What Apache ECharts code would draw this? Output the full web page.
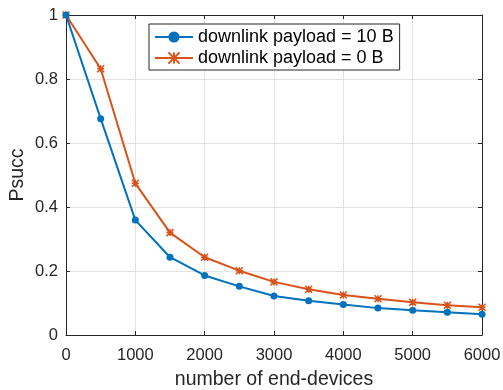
<!DOCTYPE html>
<html>
<head>
<meta charset="utf-8">
<script src="https://cdn.jsdelivr.net/npm/echarts@6/dist/echarts.min.js"></script>
<style>
  html, body { margin: 0; padding: 0; background: #fff; }
  #chart { width: 503px; height: 390px; }
</style>
</head>
<body>
<div id="chart"></div>
<script>
// Number of end-devices in the network
const devices = [0, 500, 1000, 1500, 2000, 2500, 3000, 3500, 4000, 4500, 5000, 5500, 6000];
// Success probability with a 10-byte downlink payload
const psucc10B = [1.0, 0.676, 0.359, 0.243, 0.186, 0.152, 0.122, 0.107, 0.095, 0.084, 0.077, 0.071, 0.065];
// Success probability with no downlink payload
const psucc0B = [1.0, 0.832, 0.474, 0.320, 0.243, 0.201, 0.166, 0.143, 0.125, 0.113, 0.102, 0.093, 0.087];

const seriesNames = ['downlink payload = 10 B', 'downlink payload = 0 B'];
const xTitle = 'number of end-devices';
const yTitle = 'Psucc';

const FONT = '"Liberation Sans", Arial, Helvetica, sans-serif';
const AXIS_COLOR = '#262626';
const GRID_COLOR = '#e3e3e3';
const BLUE = '#0072BD';
const ORANGE = '#D95319';

// asterisk marker: diagonal cross plus vertical/horizontal bars
const ASTERISK = 'path://M0,0L10,10M10,0L0,10M5,0L5,10M0,5L10,5';

const pairs = (ys) => devices.map((x, i) => [x, ys[i]]);

// plain number labels (no thousands separator)
const plain = (v) => String(Math.round(v * 1000) / 1000);

function boxAxis(kind, pos) {
  return {
    type: 'value', position: pos,
    min: 0, max: kind === 'x' ? 6000 : 1,
    interval: kind === 'x' ? 1000 : 0.2,
    axisLine: { show: true, onZero: false, lineStyle: { color: AXIS_COLOR, width: 1 } },
    axisTick: { show: true, inside: true, length: 4, lineStyle: { color: AXIS_COLOR } },
    axisLabel: { show: false },
    splitLine: { show: false }
  };
}

const chart = echarts.init(document.getElementById('chart'), null, { renderer: 'canvas' });
chart.setOption({
  animation: false,
  backgroundColor: '#ffffff',
  grid: { left: 66, right: 21, top: 15, bottom: 55, containLabel: false, outerBoundsMode: 'none' },
  legend: {
    orient: 'vertical',
    left: 149, top: 24,
    padding: [4, 6, 3, 5],
    itemGap: 3,
    itemWidth: 38, itemHeight: 14,
    backgroundColor: '#ffffff',
    borderColor: AXIS_COLOR, borderWidth: 1, borderRadius: 0,
    textStyle: { fontFamily: FONT, fontSize: 18, color: '#000' },
    data: seriesNames
  },
  xAxis: [
    {
      type: 'value', position: 'bottom', min: 0, max: 6000, interval: 1000,
      name: xTitle, nameLocation: 'middle', nameGap: 35, nameMoveOverlap: false,
      nameTextStyle: { fontFamily: FONT, fontSize: 19.5, color: AXIS_COLOR },
      axisLine: { show: true, onZero: false, lineStyle: { color: AXIS_COLOR, width: 1 } },
      axisTick: { show: true, inside: true, length: 4, lineStyle: { color: AXIS_COLOR } },
      axisLabel: { fontFamily: FONT, fontSize: 16.5, color: AXIS_COLOR, margin: 12, formatter: plain },
      splitLine: { show: true, lineStyle: { color: GRID_COLOR, width: 1 } }
    },
    boxAxis('x', 'top')
  ],
  yAxis: [
    {
      type: 'value', position: 'left', min: 0, max: 1, interval: 0.2,
      name: yTitle, nameLocation: 'middle', nameGap: 38, nameMoveOverlap: false,
      nameTextStyle: { fontFamily: FONT, fontSize: 19.5, color: AXIS_COLOR },
      axisLine: { show: true, onZero: false, lineStyle: { color: AXIS_COLOR, width: 1 } },
      axisTick: { show: true, inside: true, length: 4, lineStyle: { color: AXIS_COLOR } },
      axisLabel: { fontFamily: FONT, fontSize: 16.5, color: AXIS_COLOR, margin: 8, formatter: plain },
      splitLine: { show: true, lineStyle: { color: GRID_COLOR, width: 1 } }
    },
    boxAxis('y', 'right')
  ],
  series: [
    {
      name: seriesNames[0], type: 'line', data: pairs(psucc10B),
      xAxisIndex: 0, yAxisIndex: 0,
      symbol: 'circle', symbolSize: 7, showAllSymbol: true,
      lineStyle: { color: BLUE, width: 2 },
      itemStyle: { color: BLUE, borderColor: BLUE, borderWidth: 0 },
      z: 3
    },
    {
      name: seriesNames[1], type: 'line', data: pairs(psucc0B),
      xAxisIndex: 0, yAxisIndex: 0,
      symbol: ASTERISK, symbolSize: 7, symbolKeepAspect: true, showAllSymbol: true,
      lineStyle: { color: ORANGE, width: 2 },
      itemStyle: { color: ORANGE, borderColor: ORANGE, borderWidth: 1.5 },
      z: 2
    }
  ]
});
</script>
</body>
</html>
